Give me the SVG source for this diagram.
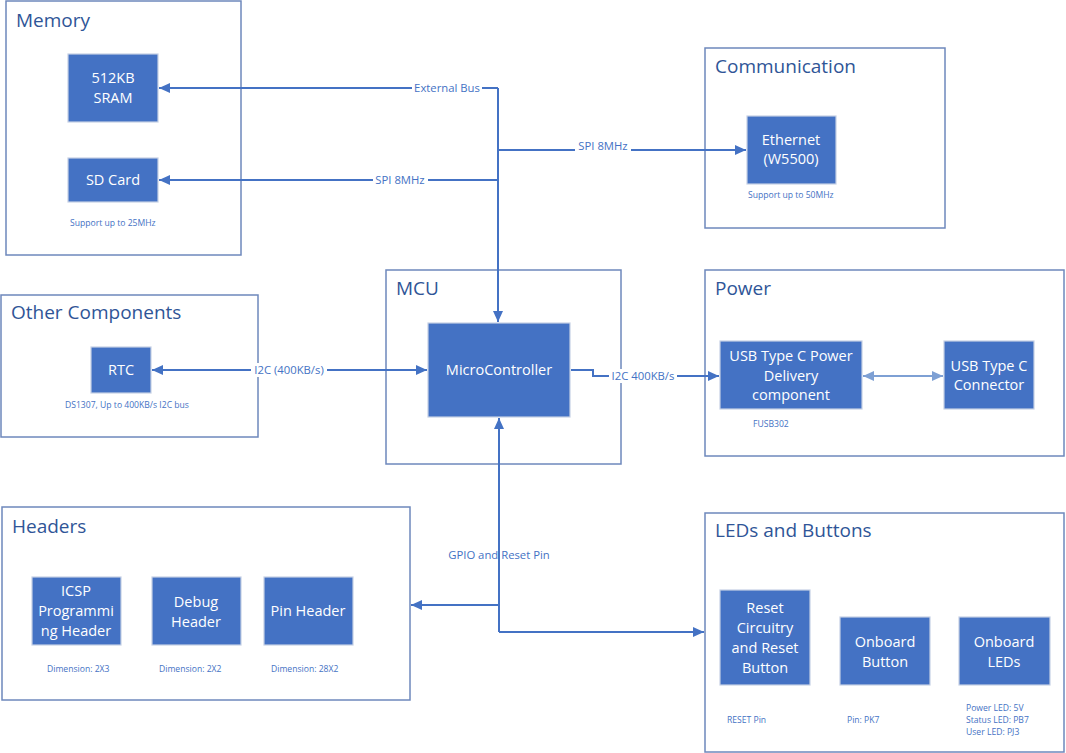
<svg xmlns="http://www.w3.org/2000/svg" width="1066" height="753" viewBox="0 0 1066 753">
  <style>
    .group { fill: #ffffff; stroke: #6E88BC; stroke-width: 1.5; }
    .title { font-family: "Open Sans", "Noto Sans", sans-serif; font-size: 19px; fill: #2F5597; }
    .box { fill: #4472C4; stroke: #C5D0E4; stroke-width: 1.2; }
    .btext { font-family: "Open Sans", "Noto Sans", sans-serif; font-size: 14.5px; fill: #ffffff; text-anchor: middle; }
    .note { font-family: "Open Sans", "Noto Sans", sans-serif; font-size: 8.6px; fill: #4472C4; }
    .lbl { font-family: "Open Sans", "Noto Sans", sans-serif; font-size: 11.3px; fill: #4472C4; text-anchor: middle; }
    .wire { fill: none; stroke: #4472C4; stroke-width: 2; }
    .wire-light { fill: none; stroke: #7EA0D4; stroke-width: 2; }
    .bg { fill: #ffffff; }
  </style>
  <defs>
    <marker id="arrow" markerUnits="userSpaceOnUse" markerWidth="12" markerHeight="12" viewBox="0 0 12 12" refX="11" refY="6" orient="auto-start-reverse">
      <path d="M0,1 L11,6 L0,11 Z" fill="#4472C4"/>
    </marker>
    <marker id="arrow-light" markerUnits="userSpaceOnUse" markerWidth="12" markerHeight="12" viewBox="0 0 12 12" refX="11" refY="6" orient="auto-start-reverse">
      <path d="M0,1 L11,6 L0,11 Z" fill="#7EA0D4"/>
    </marker>
  </defs>

  <rect width="1066" height="753" fill="#ffffff"/>

  <!-- Group containers -->
  <g id="memory">
    <rect class="group" x="6" y="1" width="235" height="254"/>
    <text class="title" x="16" y="27">Memory</text>
  </g>
  <g id="communication">
    <rect class="group" x="705" y="48" width="240" height="180"/>
    <text class="title" x="715" y="73">Communication</text>
  </g>
  <g id="other-components">
    <rect class="group" x="1" y="295" width="257" height="142"/>
    <text class="title" x="11" y="319">Other Components</text>
  </g>
  <g id="mcu">
    <rect class="group" x="386" y="270" width="235" height="194"/>
    <text class="title" x="396" y="295">MCU</text>
  </g>
  <g id="power">
    <rect class="group" x="705" y="270" width="359" height="186"/>
    <text class="title" x="715" y="295">Power</text>
  </g>
  <g id="headers">
    <rect class="group" x="2" y="507" width="408" height="193"/>
    <text class="title" x="12" y="533">Headers</text>
  </g>
  <g id="leds-buttons">
    <rect class="group" x="705" y="513" width="359" height="239"/>
    <text class="title" x="715" y="537">LEDs and Buttons</text>
  </g>

  <!-- Connectors -->
  <g id="connectors">
    <!-- bus trunk from the MCU upward -->
    <path class="wire" d="M498,88 L498,322" marker-end="url(#arrow)"/>
    <path class="wire" d="M498,88 L159,88" marker-end="url(#arrow)"/>
    <path class="wire" d="M498,180 L159,180" marker-end="url(#arrow)"/>
    <path class="wire" d="M498,150 L746,150" marker-end="url(#arrow)"/>
    <!-- RTC link -->
    <path class="wire" d="M152,370 L427,370" marker-start="url(#arrow)" marker-end="url(#arrow)"/>
    <!-- power delivery link -->
    <path class="wire" d="M571,370 L593,370 L593,376 L719,376" marker-end="url(#arrow)"/>
    <path class="wire-light" d="M863,376 L943,376" marker-start="url(#arrow-light)" marker-end="url(#arrow-light)"/>
    <!-- GPIO and reset -->
    <path class="wire" d="M499,632 L499,418" marker-end="url(#arrow)"/>
    <path class="wire" d="M499,605 L411,605" marker-end="url(#arrow)"/>
    <path class="wire" d="M499,632 L704,632" marker-end="url(#arrow)"/>

    <!-- connector labels -->
    <rect class="bg" x="412" y="81" width="70" height="14"/>
    <text class="lbl" x="447" y="92">External Bus</text>
    <rect class="bg" x="373" y="173" width="55" height="14"/>
    <text class="lbl" x="400" y="184">SPI 8MHz</text>
    <rect class="bg" x="575" y="139" width="56" height="14"/>
    <text class="lbl" x="603" y="150">SPI 8MHz</text>
    <rect class="bg" x="251" y="363" width="76" height="14"/>
    <text class="lbl" x="289" y="374">I2C (400KB/s)</text>
    <rect class="bg" x="609" y="369" width="68" height="14"/>
    <text class="lbl" x="643" y="380">I2C 400KB/s</text>
    <text class="lbl" x="499" y="559">GPIO and Reset Pin</text>
  </g>

  <!-- Nodes -->
  <g id="sram">
    <rect class="box" x="68" y="54" width="90" height="68"/>
    <text class="btext" x="113" y="83">512KB</text>
    <text class="btext" x="113" y="103">SRAM</text>
  </g>
  <g id="sd-card">
    <rect class="box" x="68" y="158" width="90" height="44"/>
    <text class="btext" x="113" y="185">SD Card</text>
    <text class="note" x="70" y="226">Support up to 25MHz</text>
  </g>
  <g id="ethernet">
    <rect class="box" x="747" y="116" width="89" height="68"/>
    <text class="btext" x="791" y="145">Ethernet</text>
    <text class="btext" x="791" y="164">(W5500)</text>
    <text class="note" x="748" y="198">Support up to 50MHz</text>
  </g>
  <g id="rtc">
    <rect class="box" x="91" y="347" width="60" height="46"/>
    <text class="btext" x="121" y="375">RTC</text>
    <text class="note" x="65" y="408">DS1307, Up to 400KB/s I2C bus</text>
  </g>
  <g id="microcontroller">
    <rect class="box" x="428" y="323" width="142" height="94"/>
    <text class="btext" x="499" y="375">MicroController</text>
  </g>
  <g id="usb-pd">
    <rect class="box" x="720" y="341" width="142" height="68"/>
    <text class="btext" x="791" y="361">USB Type C Power</text>
    <text class="btext" x="791" y="381">Delivery</text>
    <text class="btext" x="791" y="400">component</text>
    <text class="note" x="753" y="427">FUSB302</text>
  </g>
  <g id="usb-connector">
    <rect class="box" x="944" y="341" width="90" height="68"/>
    <text class="btext" x="989" y="371">USB Type C</text>
    <text class="btext" x="989" y="390">Connector</text>
  </g>
  <g id="icsp-header">
    <rect class="box" x="32" y="577" width="89" height="68"/>
    <text class="btext" x="76" y="596">ICSP</text>
    <text class="btext" x="76" y="616">Programmi</text>
    <text class="btext" x="76" y="636">ng Header</text>
    <text class="note" x="47" y="672">Dimension: 2X3</text>
  </g>
  <g id="debug-header">
    <rect class="box" x="152" y="577" width="89" height="68"/>
    <text class="btext" x="196" y="607">Debug</text>
    <text class="btext" x="196" y="627">Header</text>
    <text class="note" x="159" y="672">Dimension: 2X2</text>
  </g>
  <g id="pin-header">
    <rect class="box" x="264" y="577" width="89" height="68"/>
    <text class="btext" x="308" y="616">Pin Header</text>
    <text class="note" x="271" y="672">Dimension: 28X2</text>
  </g>
  <g id="reset-button">
    <rect class="box" x="720" y="590" width="90" height="95"/>
    <text class="btext" x="765" y="613">Reset</text>
    <text class="btext" x="765" y="633">Circuitry</text>
    <text class="btext" x="765" y="653">and Reset</text>
    <text class="btext" x="765" y="673">Button</text>
    <text class="note" x="727" y="723">RESET Pin</text>
  </g>
  <g id="onboard-button">
    <rect class="box" x="840" y="617" width="90" height="68"/>
    <text class="btext" x="885" y="647">Onboard</text>
    <text class="btext" x="885" y="667">Button</text>
    <text class="note" x="847" y="723">Pin: PK7</text>
  </g>
  <g id="onboard-leds">
    <rect class="box" x="959" y="617" width="91" height="68"/>
    <text class="btext" x="1004" y="647">Onboard</text>
    <text class="btext" x="1004" y="667">LEDs</text>
    <text class="note" x="966" y="711">Power LED: 5V</text>
    <text class="note" x="966" y="723">Status LED: PB7</text>
    <text class="note" x="966" y="735">User LED: PJ3</text>
  </g>
</svg>
